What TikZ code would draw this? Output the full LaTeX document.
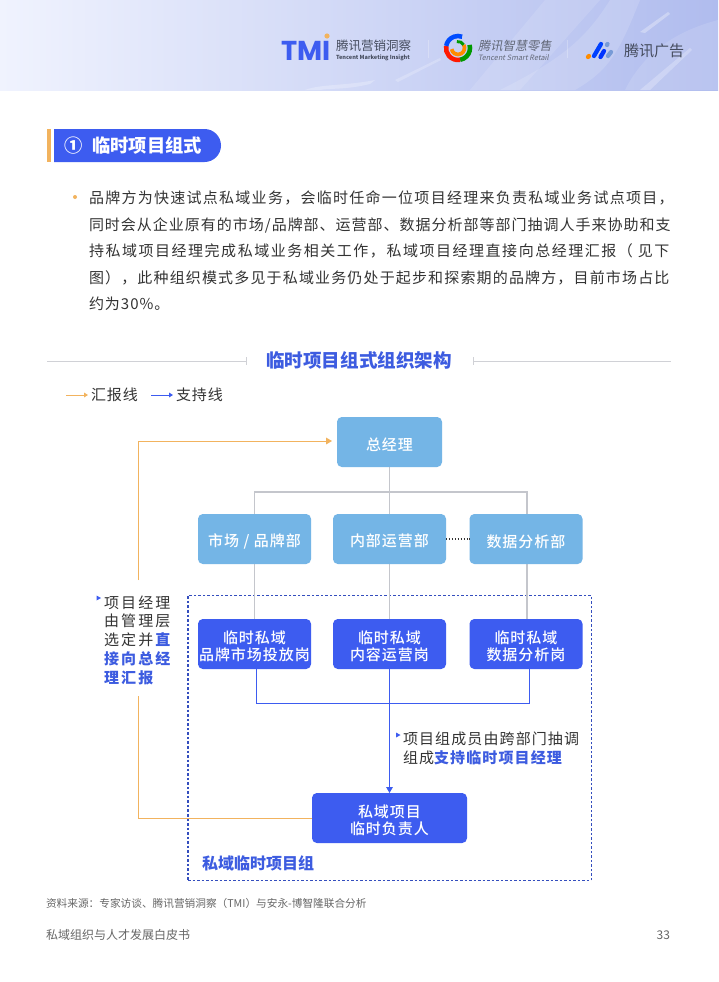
\documentclass[tikz,border=0pt]{standalone}
\usepackage{fontspec}
\usetikzlibrary{arrows.meta,calc}
\setmainfont{Noto Sans CJK SC}
\newfontfamily\latinb{Poppins}[BoldFont={Poppins Bold}]
\newfontfamily\slantcjk[FakeSlant=0.2]{Noto Sans CJK SC}
\newfontfamily\cjkm{Noto Sans CJK SC Medium}
\definecolor{bluemain}{HTML}{3D5CF0}
\definecolor{bluetext}{HTML}{3D5CE0}
\definecolor{skybox}{HTML}{74B5E6}
\definecolor{orangeline}{HTML}{F2B35E}
\definecolor{grayline}{HTML}{C4C6CC}
\definecolor{bodytext}{HTML}{333333}
\definecolor{foot}{HTML}{666666}
\definecolor{logotext}{HTML}{454C5E}
\definecolor{headl}{HTML}{F0F3FE}
\definecolor{headr}{HTML}{B0BCEE}
\newcommand\spaced{\addfontfeatures{LetterSpace=6.6}}
\newcommand\lowertext{\rule{0pt}{13pt}}
\tikzset{
  x=0.75pt,y=-0.75pt,
  every node/.style={inner sep=0pt,outer sep=0pt},
  boxbase/.style={rounded corners=3.6pt,text=white,align=center,font=\fontsize{11.25pt}{12.9pt}\cjkm\spaced},
  deptbox/.style={boxbase,fill=skybox},
  postbox/.style={boxbase,fill=bluemain},
  bodyline/.style={anchor=west,text=bodytext,font=\fontsize{11.25pt}{14pt}\selectfont\spaced},
  notetext/.style={anchor=north west,text=bodytext,align=left,font=\fontsize{11.25pt}{14.1pt}\selectfont\addfontfeatures{LetterSpace=7.4}},
  grayconn/.style={draw=grayline,line width=0.9pt},
  blueconn/.style={draw=bluemain,line width=0.75pt},
  orangeconn/.style={draw=orangeline,line width=0.75pt},
  marktri/.style={fill=bluemain},
  rulegray/.style={draw=grayline!80,line width=0.7pt},
}
\begin{document}
\begin{tikzpicture}
\useasboundingbox (0,0) rectangle (718,982);
\fill[white] (0,0) rectangle (718,982);
% header band
\shade[left color=headl,right color=headr] (0,0) rectangle (718,90);
\fill[white,opacity=.12] (470,90) -- (545,0) -- (600,0) -- (520,90) -- cycle;
\fill[white,opacity=.14] (500,90) .. controls (560,60) and (585,40) .. (610,0) -- (640,0) .. controls (620,50) and (610,70) .. (575,90) -- cycle;
\fill[white,opacity=.22] (395,80) -- (440,58) -- (441,60) -- (398,82) -- cycle;
\fill[white,opacity=.25] (640,90) -- (690,48) -- (692,50) -- (650,90) -- cycle;
\fill[white,opacity=.30] (640,32) -- (668,12) -- (670,14) -- (645,33) -- cycle;
\fill[white,opacity=.12] (625,90) .. controls (645,50) and (680,30) .. (718,20) -- (718,90) -- cycle;
\fill[white,opacity=.25] (305,90) .. controls (320,84) and (345,86) .. (375,80) -- (370,84) .. controls (345,90) and (330,88) .. (320,90) -- cycle;
% TMI logo
\node[anchor=west,text=bluemain] (tmi) at (281,50.5) {\latinb\bfseries\fontsize{20.5pt}{20pt}\selectfont TMI};
\fill[orangeline] (327,36) circle (2.6);
\node[anchor=west,text=logotext,font=\fontsize{9.4pt}{10pt}\selectfont] (t1) at (336,45.5) {腾讯营销洞察};
\node[anchor=west,text=logotext,font=\fontsize{4.2pt}{5pt}\selectfont\bfseries] (t2) at (336,57.5) {Tencent Marketing Insight};
\draw[white,opacity=.25,line width=.6pt] (428,40) -- (428,58);
\draw[white,opacity=.25,line width=.6pt] (567,40) -- (567,58);
% spiral logo
\begin{scope}[line cap=butt]
\draw[line width=3.4pt,draw=green!60!black] (458,48) ++(-15:12) arc (-15:80:12);
\draw[line width=3.4pt,draw=red!80!orange] (458,48) ++(80:12) arc (80:190:12);
\draw[line width=3.4pt,draw=blue!70!cyan] (458,48) ++(190:12) arc (190:290:12);
\draw[line width=2.8pt,draw=orange!90!yellow] (458,48) ++(-30:6.5) arc (-30:170:6.5);
\draw[line width=2.2pt,draw=green!60!black] (458,48) ++(-100:6.5) arc (-100:-30:6.5);
\end{scope}
\node[anchor=west,text=logotext!85,font=\fontsize{9.2pt}{10pt}\slantcjk] (t3) at (478,45.5) {腾讯智慧零售};
\node[anchor=west,text=logotext!85,font=\fontsize{5.5pt}{6pt}\slantcjk] (t4) at (478,57.5) {Tencent Smart Retail};
% blocks logo
\begin{scope}[line cap=round]
\draw[line width=3.2pt,draw=orange!90!yellow] (588,57) -- (589,56);
\draw[line width=3.2pt,draw=blue!75!cyan] (594,56) -- (601,44);
\draw[line width=3.2pt,draw=blue!80!cyan] (600.5,57) -- (604,51);
\draw[line width=3.2pt,draw=cyan!45!blue!55] (607,45) -- (607.5,44);
\draw[line width=3.2pt,draw=cyan!45!blue!55] (608,56) -- (611,52);
\end{scope}
\node[anchor=west,text=logotext,font=\fontsize{11.3pt}{12pt}\selectfont] (t5) at (624,51) {腾讯广告};
% section heading
\fill[orangeline] (47,129) rectangle (50.5,162);
\fill[bluemain] (54,129) -- (204.5,129) arc (-90:90:16.5) -- (54,162) -- cycle;
\node[anchor=west,text=white,font=\fontsize{13.7pt}{14pt}\selectfont\bfseries] (head) at (64,145.5) {①\hspace{7.6pt}临时项目组式};
% body
\fill[orangeline] (75,197) circle (2);
\node[bodyline] (b1) at (89,198) {\addfontfeatures{LetterSpace=8.5}品牌方为快速试点私域业务，会临时任命一位项目经理来负责私域业务试点项目，};
\node[bodyline] (b2) at (89,225) {同时会从企业原有的市场/品牌部、运营部、数据分析部等部门抽调人手来协助和支};
\node[bodyline] (b3) at (89,251) {\addfontfeatures{LetterSpace=10.2}持私域项目经理完成私域业务相关工作，私域项目经理直接向总经理汇报（ 见下};
\node[bodyline] (b4) at (89,277.5) {\addfontfeatures{LetterSpace=7.7}图），此种组织模式多见于私域业务仍处于起步和探索期的品牌方，目前市场占比};
\node[bodyline] (b5) at (89,304) {约为30\%。};
% chart title
\node[text=bluetext,font=\fontsize{13.9pt}{14pt}\selectfont\bfseries] (title) at (359,360.5) {临时项目组式组织架构};
\coordinate (tl0) at (47,361); \coordinate (tl1) at (246,361);
\coordinate (tr0) at (473,361); \coordinate (tr1) at (671,361);
\draw[rulegray] (tl0) -- (tl1);
\draw[rulegray] ($(tl1)+(0,-4)$) -- ($(tl1)+(0,4)$);
\draw[rulegray] (tr0) -- (tr1);
\draw[rulegray] ($(tr0)+(0,-4)$) -- ($(tr0)+(0,4)$);
% legend
\coordinate (lo0) at (66,395); \coordinate (lo1) at (88,395);
\coordinate (lb0) at (151,395); \coordinate (lb1) at (173,395);
\draw[orangeconn,-{Triangle[length=3pt,width=3.5pt]}] (lo0) -- (lo1);
\draw[blueconn,-{Triangle[length=3pt,width=3.5pt]}] (lb0) -- (lb1);
\node[bodyline] (lgo) at (91,395) {汇报线};
\node[bodyline] (lgb) at (176,395) {支持线};
% dashed group
\node[draw=bluetext!85!black,dash pattern=on 1.9pt off 1.5pt,line width=.9pt,minimum width=302.5pt,minimum height=213.75pt,anchor=north west] (group) at (188,595.5) {};
% connectors behind the boxes
\coordinate (bus) at (389.5,492);
\coordinate (b1x) at (254.5,492);
\coordinate (b3x) at (527,492);
\coordinate (p1t) at (254.5,625);
\coordinate (p2t) at (389.5,625);
\coordinate (p3t) at (527,625);
\coordinate (gmb) at (389.5,460);
\draw[grayconn] (gmb) -- (bus);
\draw[grayconn] (p1t) -- (b1x) -- (b3x) -- (p3t);
\draw[grayconn] (bus) -- (p2t);
% boxes
\node[deptbox,minimum width=78.75pt,minimum height=37.5pt] (gm) at (389.5,442) {\lowertext 总经理};
\node[deptbox,minimum width=84.75pt,minimum height=37.5pt] (d1) at (254.5,539) {\lowertext 市场 / 品牌部};
\node[deptbox,minimum width=84.75pt,minimum height=37.5pt] (d2) at (389.5,539) {\lowertext 内部运营部};
\node[deptbox,minimum width=84.75pt,minimum height=37.5pt] (d3) at (526,539) {\lowertext 数据分析部};
\node[postbox,minimum width=84.75pt,minimum height=37.5pt] (p1) at (254.5,644) {\lowertext 临时私域\\[-.5pt]品牌市场投放岗};
\node[postbox,minimum width=84.75pt,minimum height=37.5pt] (p2) at (389.5,644) {\lowertext 临时私域\\[-.5pt]内容运营岗};
\node[postbox,minimum width=84.75pt,minimum height=37.5pt] (p3) at (526,644) {\lowertext 临时私域\\[-.5pt]数据分析岗};
\node[postbox,minimum width=116.25pt,minimum height=37.5pt] (lead) at (389.5,818) {\lowertext 私域项目\\[-.5pt]临时负责人};
% connectors
\draw[draw=bodytext,line width=.8pt,dash pattern=on .9pt off 1.3pt] (d2.east) -- (d3.west);
\coordinate (sb1) at (256,669); \coordinate (sb3) at (529,669); \coordinate (jn) at (389.5,703);
\draw[blueconn] (sb1) |- (jn) -| (sb3);
\draw[blueconn,-{Triangle[length=4.5pt,width=5pt]}] (p2.south) -- (lead.north);
\coordinate (oa) at (138,696);
\coordinate (ob) at (138,580);
\draw[orangeconn] (oa) |- (lead.west);
\draw[orangeconn,-{Triangle[length=4.5pt,width=5pt]}] (ob) |- ($(gm.west)+(-5,-1)$);
% notes
\fill[marktri] (96.5,595.5) -- (101,598) -- (96.5,600.5) -- cycle;
\node[notetext] (n1) at (104,595.5) {项\hspace{1.6pt}目\hspace{1.6pt}经\hspace{1.6pt}理\\由\hspace{1.6pt}管\hspace{1.6pt}理\hspace{1.6pt}层\\选\hspace{1.6pt}定\hspace{1.6pt}并\hspace{1.6pt}\textcolor{bluetext}{\bfseries 直}\\\textcolor{bluetext}{\bfseries 接\hspace{1.6pt}向\hspace{1.6pt}总\hspace{1.6pt}经}\\\textcolor{bluetext}{\bfseries 理\hspace{1.6pt}汇\hspace{1.6pt}报}};
\fill[marktri] (396,732.5) -- (400.5,735) -- (396,737.5) -- cycle;
\node[notetext] (n2) at (403,732) {项目组成员由跨部门抽调\\组成\textcolor{bluetext}{\bfseries 支持临时项目经理}};
\node[anchor=west,text=bluetext,font=\fontsize{12pt}{13pt}\selectfont\bfseries] (grp) at (202,863) {私域临时项目组};
% footer
\node[anchor=west,text=foot,font=\fontsize{8pt}{9pt}\selectfont] (src) at (46,903) {资料来源：专家访谈、腾讯营销洞察（TMI）与安永-博智隆联合分析};
\node[anchor=west,text=foot,font=\fontsize{9pt}{10pt}\selectfont] (ft) at (46,935) {私域组织与人才发展白皮书};
\node[anchor=east,text=foot,font=\fontsize{9pt}{10pt}\selectfont] (pg) at (670,935) {33};
\end{tikzpicture}
\end{document}
